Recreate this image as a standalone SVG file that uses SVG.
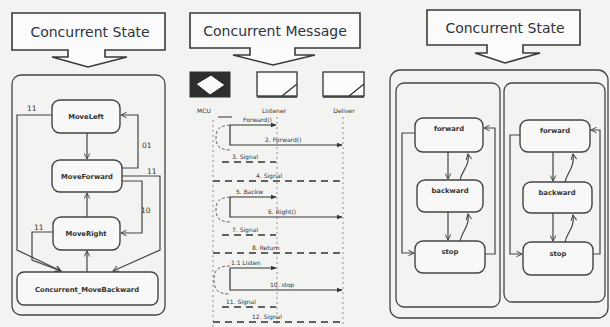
<svg xmlns="http://www.w3.org/2000/svg" width="610" height="327" viewBox="0 0 610 327">
<defs>
<marker id="open" viewBox="0 0 10 10" refX="9" refY="5" markerWidth="7" markerHeight="7" orient="auto-start-reverse" markerUnits="userSpaceOnUse">
<path d="M1,1 L9,5 L1,9" fill="none" stroke="#444" stroke-width="1.4"/>
</marker>
<marker id="solid" viewBox="0 0 10 10" refX="9" refY="5" markerWidth="6" markerHeight="6" orient="auto" markerUnits="userSpaceOnUse">
<path d="M0,1 L10,5 L0,9 Z" fill="#333"/>
</marker>
<style>
.bg{fill:#f3f3f1}
.callout{fill:#fbfbfb;stroke:#3a3a3a;stroke-width:1.6}
.head{font-family:"DejaVu Sans",sans-serif;font-size:14px;fill:#2e3440;text-anchor:middle}
.frame{fill:none;stroke:#444;stroke-width:1.3}
.state{fill:#f8f8f8;stroke:#444;stroke-width:1.4}
.lbl{font-family:"DejaVu Sans",sans-serif;font-size:6.8px;font-weight:bold;fill:#333;text-anchor:middle}
.tlbl{font-family:"DejaVu Sans",sans-serif;font-size:7.5px;fill:#333}
.edge{fill:none;stroke:#444;stroke-width:1.2}
.msg{fill:none;stroke:#333;stroke-width:1.2}
.ret{fill:none;stroke:#333;stroke-width:1.3;stroke-dasharray:7,5}
.life{fill:none;stroke:#777;stroke-width:0.8;stroke-dasharray:2,3}
.brk{fill:none;stroke:#555;stroke-width:0.9;stroke-dasharray:3,2}
.mtxt{font-family:"DejaVu Sans",sans-serif;font-size:6px;fill:#333}
.icon{fill:#fbfbfb;stroke:#333;stroke-width:1.3}
</style>
</defs>
<rect class="bg" x="0" y="0" width="610" height="327"/>

<!-- Left panel -->
<g id="header-left">
<path class="callout" d="M12,13 H165 V50 H105 V57 H127 L88,67 L52,57 H68 V50 H12 Z"/>
<text class="head" x="90" y="37">Concurrent State</text>
</g>
<g id="container-left">
<rect class="frame" x="12" y="75" width="153" height="240" rx="9"/>
</g>
<g id="MoveLeft">
<rect class="state" x="52" y="100" width="68" height="33" rx="8"/>
<text class="lbl" x="86" y="119">MoveLeft</text>
</g>
<g id="MoveForward">
<rect class="state" x="52" y="160" width="70" height="32" rx="8"/>
<text class="lbl" x="87" y="179">MoveForward</text>
</g>
<g id="MoveRight">
<rect class="state" x="53" y="217" width="67" height="33" rx="8"/>
<text class="lbl" x="86" y="236">MoveRight</text>
</g>
<g id="Concurrent_MoveBackward">
<rect class="state" x="17" y="272" width="141" height="33" rx="7"/>
<text class="lbl" x="87" y="292">Concurrent_MoveBackward</text>
</g>
<g id="connectors-left">
<path class="edge" d="M87,133 V159" marker-end="url(#open)"/>
<path class="edge" d="M87,217 V193" marker-end="url(#open)"/>
<path class="edge" d="M87,272 V251" marker-end="url(#open)"/>
<path class="edge" d="M52,115 H17 V250 L61,271" marker-end="url(#open)"/>
<path class="edge" d="M53,232 H32 V260 L61,271" marker-end="url(#open)"/>
<path class="edge" d="M122,168 H138 V115 H121" marker-end="url(#open)"/>
<path class="edge" d="M122,176 H160 V250 L113,271" marker-end="url(#open)"/>
<path class="edge" d="M122,181 H142 V233 H121" marker-end="url(#open)"/>
<text class="tlbl" x="27" y="111">11</text>
<text class="tlbl" x="142" y="148">01</text>
<text class="tlbl" x="147" y="174">11</text>
<text class="tlbl" x="141" y="213">10</text>
<text class="tlbl" x="34" y="230">11</text>
</g>

<!-- Middle panel -->
<g id="header-middle">
<path class="callout" d="M190,13 H360 V48 H295 V55 H315 L273,65 L233,55 H250 V48 H190 Z"/>
<text class="head" x="275" y="36">Concurrent Message</text>
</g>
<g id="MCU">
<rect x="190" y="72" width="40" height="25" fill="#2e2e2e" stroke="#333" stroke-width="1"/>
<polygon points="196,84 211,75 225,85 210,95" fill="#fafafa" stroke="#222" stroke-width="1"/>
<text class="mtxt" x="204" y="113" text-anchor="middle">MCU</text>
</g>
<g id="Listener">
<rect class="icon" x="257" y="72" width="40" height="24"/>
<path d="M257,97 H297 M282,96 L297,84" fill="none" stroke="#333" stroke-width="1.3"/>
<text class="mtxt" x="274" y="113" text-anchor="middle">Listener</text>
</g>
<g id="Deliver">
<rect class="icon" x="323" y="72" width="41" height="24"/>
<path d="M323,97 H364 M349,96 L364,84" fill="none" stroke="#333" stroke-width="1.3"/>
<text class="mtxt" x="344" y="113" text-anchor="middle">Deliver</text>
</g>
<g id="connectors-middle">
<path class="life" d="M213,120 V327"/>
<path class="life" d="M277,117 V327"/>
<path class="life" d="M343,117 V327"/>
<path d="M218,117 H232" stroke="#333" stroke-width="1"/>
<path class="brk" d="M230,125 C218,126 216,130 216,138 C216,146 220,150 230,150"/>
<path class="brk" d="M230,197 C218,198 216,202 216,210 C216,218 220,222 230,222"/>
<path class="brk" d="M230,266 C216,266 214,272 214,280 C214,290 218,294 230,294"/>
<path class="msg" d="M230,125 H276" marker-end="url(#solid)"/>
<text class="mtxt" x="243" y="122">Forward()</text>
<path class="msg" d="M230,125 V145 H342" marker-end="url(#solid)"/>
<text class="mtxt" x="265" y="142">2. Forward()</text>
<path class="ret" d="M222,162 H276"/>
<text class="mtxt" x="232" y="159">3. Signal</text>
<path class="ret" d="M213,181 H343"/>
<text class="mtxt" x="256" y="178">4. Signal</text>
<path class="msg" d="M230,197 H276" marker-end="url(#solid)"/>
<text class="mtxt" x="236" y="194">5. Backw</text>
<path class="msg" d="M230,197 V217 H342" marker-end="url(#solid)"/>
<text class="mtxt" x="268" y="214">6. Right()</text>
<path class="ret" d="M222,235 H276"/>
<text class="mtxt" x="232" y="232">7. Signal</text>
<path class="ret" d="M213,253 H343"/>
<text class="mtxt" x="252" y="250">8. Return</text>
<path class="msg" d="M230,268 H276" marker-end="url(#solid)"/>
<text class="mtxt" x="231" y="265">1.1 Listen</text>
<path class="msg" d="M230,268 V290 H342" marker-end="url(#solid)"/>
<text class="mtxt" x="270" y="287">10. stop</text>
<path class="ret" d="M222,307 H276"/>
<text class="mtxt" x="226" y="304">11. Signal</text>
<path class="ret" d="M213,322 H343"/>
<text class="mtxt" x="252" y="319">12. Signal</text>
</g>

<!-- Right panel -->
<g id="header-right">
<path class="callout" d="M427,10 H580 V45 H523 V53 H540 L505,63 L475,53 H487 V45 H427 Z"/>
<text class="head" x="505" y="33">Concurrent State</text>
</g>
<g id="container-right">
<rect class="frame" x="390" y="70" width="218" height="248" rx="10"/>
<rect class="frame" x="396" y="83" width="104" height="224" rx="8"/>
<rect class="frame" x="504" y="83" width="101" height="219" rx="8"/>
</g>
<g id="forward-1">
<rect class="state" x="415" y="118" width="68" height="34" rx="8"/>
<text class="lbl" x="449" y="131">forward</text>
</g>
<g id="backward-1">
<rect class="state" x="417" y="180" width="66" height="32" rx="8"/>
<text class="lbl" x="450" y="193">backward</text>
</g>
<g id="stop-1">
<rect class="state" x="415" y="241" width="70" height="32" rx="8"/>
<text class="lbl" x="450" y="254">stop</text>
</g>
<g id="forward-2">
<rect class="state" x="520" y="120" width="70" height="32" rx="8"/>
<text class="lbl" x="555" y="133">forward</text>
</g>
<g id="backward-2">
<rect class="state" x="523" y="182" width="69" height="31" rx="8"/>
<text class="lbl" x="557" y="195">backward</text>
</g>
<g id="stop-2">
<rect class="state" x="523" y="242" width="70" height="33" rx="8"/>
<text class="lbl" x="558" y="256">stop</text>
</g>
<g id="connectors-right">
<path class="edge" d="M448,152 V179" marker-end="url(#open)"/>
<path class="edge" d="M460,180 C462,170 470,166 468,154" marker-end="url(#open)"/>
<path class="edge" d="M448,212 V240" marker-end="url(#open)"/>
<path class="edge" d="M460,241 C462,231 470,226 468,214" marker-end="url(#open)"/>
<path class="edge" d="M415,133 H402 V253 H414" marker-end="url(#open)"/>
<path class="edge" d="M485,254 H495 V128 H484" marker-end="url(#open)"/>
<path class="edge" d="M553,152 V181" marker-end="url(#open)"/>
<path class="edge" d="M565,182 C567,172 575,168 573,154" marker-end="url(#open)"/>
<path class="edge" d="M553,213 V241" marker-end="url(#open)"/>
<path class="edge" d="M565,242 C567,232 575,228 573,215" marker-end="url(#open)"/>
<path class="edge" d="M520,135 H510 V254 H522" marker-end="url(#open)"/>
<path class="edge" d="M593,254 H600 V130 H591" marker-end="url(#open)"/>
</g>
</svg>
